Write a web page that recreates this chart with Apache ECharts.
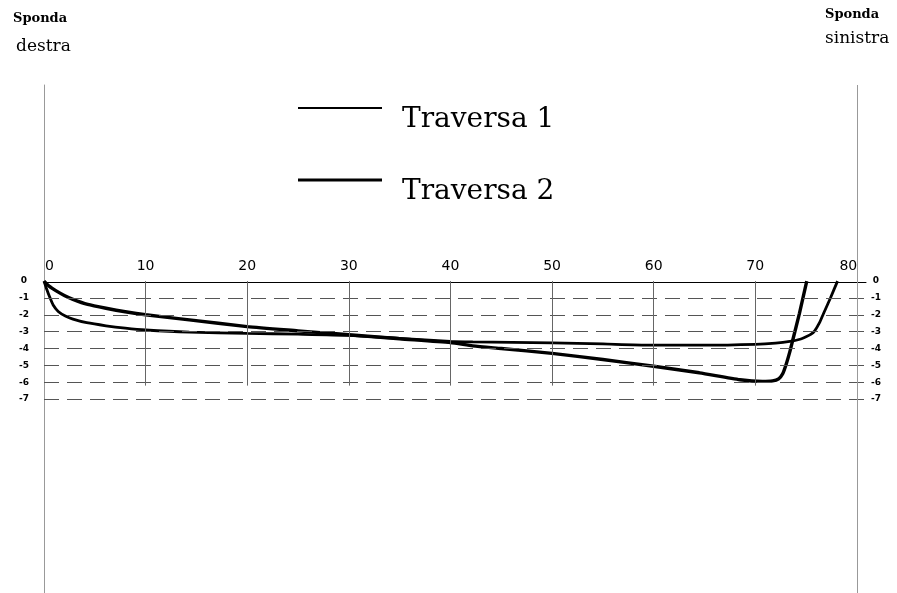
<!DOCTYPE html>
<html>
<head>
<meta charset="utf-8">
<script src="https://cdn.jsdelivr.net/npm/echarts@6/dist/echarts.min.js"></script>
<style>html,body{margin:0;padding:0;background:#fff;}#c{width:897px;height:593px;}</style>
</head>
<body>
<div id="c"></div>
<script>
// ---- data ----
const seriesNames = ['Traversa 1', 'Traversa 2'];
// Traversa 1 (stays near -3.8, reaches bank at ~78)
const t1X = [0, 0.25, 0.55, 0.9, 1.4, 2.1, 2.85, 4.2, 6.1, 8, 10, 14.3, 20, 25, 30, 35, 40, 42.2, 50, 55, 59.6, 65, 70, 72, 73.4, 74.4, 75.0, 75.5, 75.85, 76.3, 76.7, 77.4, 78.1];
const t1Y = [0, -0.45, -0.93, -1.42, -1.8, -2.07, -2.26, -2.47, -2.65, -2.79, -2.9, -3.03, -3.1, -3.15, -3.22, -3.4, -3.57, -3.6, -3.66, -3.73, -3.8, -3.8, -3.75, -3.68, -3.58, -3.45, -3.3, -3.15, -2.95, -2.5, -1.95, -1.0, 0];
// Traversa 2 (deepens to about -6, reaches bank at ~75)
const t2X = [0, 0.5, 1.2, 2, 2.85, 4.3, 6.1, 8, 10, 14.3, 20, 25, 27.5, 30, 35, 40, 42.2, 45, 50, 55, 60, 64.5, 68.5, 70.7, 71.7, 72.3, 72.7, 73.06, 73.4, 73.7, 74.35, 75.07];
const t2Y = [0, -0.3, -0.58, -0.85, -1.08, -1.38, -1.61, -1.82, -2.0, -2.3, -2.7, -2.95, -3.07, -3.18, -3.42, -3.65, -3.84, -4.0, -4.29, -4.65, -5.05, -5.44, -5.85, -5.95, -5.92, -5.8, -5.5, -4.9, -4.2, -3.48, -1.91, 0];
const xTickValues = [10, 20, 30, 40, 50, 60, 70];
const yGridValues = [-1, -2, -3, -4, -5, -6, -7];
const yLabelValues = [0, -1, -2, -3, -4, -5, -6, -7];
const xBankValue = 80;
const xTickBottom = -6.2;

const chart = echarts.init(document.getElementById('c'), null, {renderer: 'canvas'});

const toPairs = (xs, ys) => xs.map((x, i) => [x, ys[i]]);

const yLabelFmt = v => {
  const r = Math.round(v * 1000) / 1000;
  return yLabelValues.indexOf(r) >= 0 ? String(r) : '';
};

const markData = [];
yGridValues.forEach(v => markData.push({yAxis: v, lineStyle: {type: [15, 8], color: '#555', width: 1}}));
xTickValues.forEach(v => markData.push([{coord: [v, 0], lineStyle: {type: 'solid', color: '#666', width: 1}}, {coord: [v, xTickBottom]}]));
markData.push({xAxis: xBankValue, lineStyle: {type: 'solid', color: '#999', width: 1}});

const legendText = {fontFamily: 'DejaVu Serif', fontSize: 28, color: '#000', padding: [24, 0, 0, 15]};

const option = {
  animation: false,
  backgroundColor: '#fff',
  title: [
    {text: 'Sponda', left: 13, top: 12, padding: 0, textStyle: {fontFamily: 'DejaVu Serif', fontWeight: 'bold', fontSize: 13, color: '#000'}},
    {text: 'destra', left: 16, top: 38, padding: 0, textStyle: {fontFamily: 'DejaVu Serif', fontWeight: 'normal', fontSize: 17, color: '#000'}},
    {text: 'Sponda', left: 825, top: 8, padding: 0, textStyle: {fontFamily: 'DejaVu Serif', fontWeight: 'bold', fontSize: 13, color: '#000'}},
    {text: 'sinistra', left: 825, top: 30, padding: 0, textStyle: {fontFamily: 'DejaVu Serif', fontWeight: 'normal', fontSize: 17, color: '#000'}}
  ],
  legend: [
    {data: [seriesNames[0]], orient: 'vertical', left: 293, top: 101, itemWidth: 84, itemHeight: 2,
     icon: 'rect', itemStyle: {color: '#000'}, selectedMode: false,
     formatter: '{t|{name}}', textStyle: {rich: {t: legendText}}},
    {data: [seriesNames[1]], orient: 'vertical', left: 293, top: 173, itemWidth: 84, itemHeight: 3,
     icon: 'rect', itemStyle: {color: '#000'}, selectedMode: false,
     formatter: '{t|{name}}', textStyle: {rich: {t: legendText}}}
  ],
  grid: {left: 44, right: 31, top: 85, height: 511, containLabel: false},
  xAxis: {
    type: 'value', position: 'top', offset: -197.3, min: 0, max: 80.9, interval: 10,
    axisLine: {show: true, onZero: false, lineStyle: {color: '#000', width: 1}},
    axisTick: {show: false},
    splitLine: {show: false},
    axisLabel: {
      margin: 9,
      fontFamily: 'DejaVu Sans', fontSize: 14, color: '#000',
      formatter: v => v === 0 ? '{l|0}' : (v === 80 ? '{r|80}' : String(v)),
      rich: {
        l: {fontFamily: 'DejaVu Sans', fontSize: 14, color: '#000', padding: [0, 0, 0, 11]},
        r: {fontFamily: 'DejaVu Sans', fontSize: 14, color: '#000', padding: [0, 17, 0, 0]}
      }
    }
  },
  yAxis: [
    {
      type: 'value', position: 'left', min: -18.5, max: 11.63, interval: 0.5,
      axisLine: {show: true, onZero: false, lineStyle: {color: '#999', width: 1}},
      axisTick: {show: false}, splitLine: {show: false},
      axisLabel: {margin: 20, align: 'center', fontFamily: 'DejaVu Sans', fontWeight: 'bold', fontSize: 9, color: '#000', formatter: yLabelFmt}
    },
    {
      type: 'value', position: 'right', min: -18.5, max: 11.63, interval: 0.5,
      axisLine: {show: false, onZero: false},
      axisTick: {show: false}, splitLine: {show: false},
      axisLabel: {margin: 10, align: 'center', fontFamily: 'DejaVu Sans', fontWeight: 'bold', fontSize: 9, color: '#000', formatter: yLabelFmt}
    }
  ],
  series: [
    {
      name: 'grid-lines', type: 'line', data: [], z: 1, silent: true,
      markLine: {silent: true, symbol: ['none', 'none'], label: {show: false}, animation: false, data: markData}
    },
    {
      name: seriesNames[0], type: 'line', data: toPairs(t1X, t1Y), symbol: 'none', showSymbol: false,
      smooth: 0.2, z: 3,
      lineStyle: {color: '#000', width: 2.8}, itemStyle: {color: '#000'}
    },
    {
      name: seriesNames[1], type: 'line', data: toPairs(t2X, t2Y), symbol: 'none', showSymbol: false,
      smooth: 0.2, z: 3,
      lineStyle: {color: '#000', width: 3.4}, itemStyle: {color: '#000'}
    }
  ]
};
chart.setOption(option);
</script>
</body>
</html>
